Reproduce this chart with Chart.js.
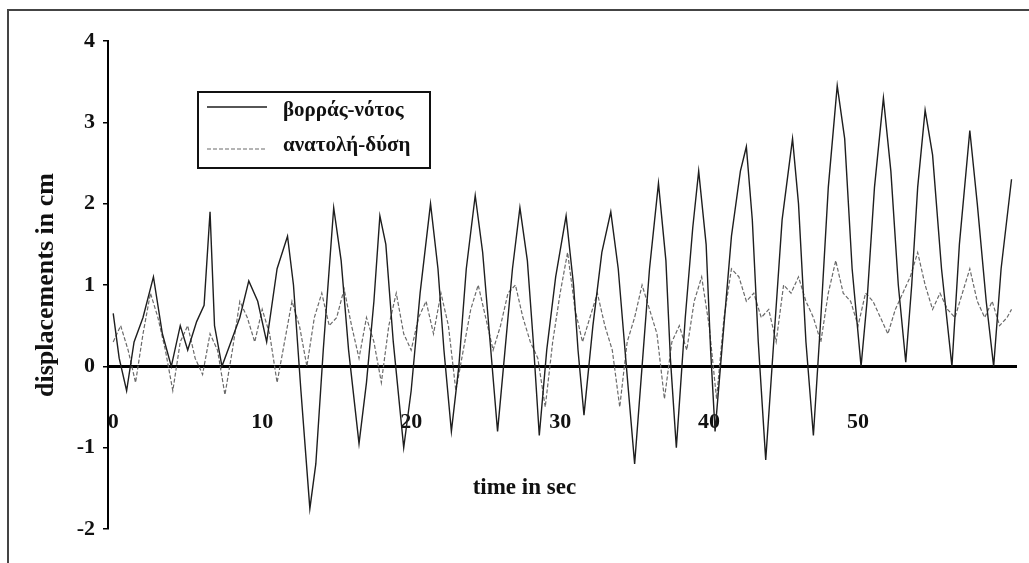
<!DOCTYPE html>
<html>
<head>
<meta charset="utf-8">
<script src="https://cdn.jsdelivr.net/npm/chart.js@4/dist/chart.umd.min.js"></script>
<style>
  html, body { margin: 0; padding: 0; background: #fff; overflow: hidden; }
  #wrap { position: relative; width: 1029px; height: 563px; }
  #frame { position: absolute; left: 7px; top: 9px; width: 1100px; height: 700px; border: 2px solid #444; box-sizing: border-box; }
  canvas { position: absolute; left: 0; top: 0; }
</style>
</head>
<body>
<div id="wrap">
  <div id="frame"></div>
  <canvas id="c" width="1029" height="563"></canvas>
</div>
<script>
// ---- Data ----
const seriesNames = ['βορράς-νότος', 'ανατολή-δύση'];
const yAxisTitle = 'displacements in cm';
const xAxisTitle = 'time in sec';
const xTickValues = [0, 10, 20, 30, 40, 50];
const yTickValues = [-2, -1, 0, 1, 2, 3, 4];

// north-south (large oscillation)
const timeNS = [0.0,0.4,0.9,1.4,2.0,2.7,3.3,3.9,4.5,5.0,5.6,6.1,6.5,6.8,7.3,7.9,8.5,9.1,9.7,10.3,11.0,11.7,12.1,12.6,13.2,13.6,14.1,14.8,15.3,15.8,16.5,17.0,17.5,17.9,18.3,18.8,19.5,20.0,20.6,21.3,21.8,22.2,22.7,23.2,23.7,24.3,24.8,25.3,25.8,26.3,26.8,27.3,27.8,28.2,28.6,29.1,29.7,30.4,30.9,31.2,31.6,32.2,32.8,33.4,33.9,34.4,35.0,35.5,36.0,36.6,37.1,37.4,37.8,38.4,38.9,39.3,39.8,40.1,40.4,40.9,41.5,42.1,42.5,42.9,43.3,43.8,44.3,44.9,45.6,46.0,46.5,47.0,47.5,48.0,48.6,49.1,49.6,50.2,50.6,51.1,51.7,52.2,52.7,53.2,53.6,54.0,54.5,55.0,55.6,56.3,56.8,57.5,58.0,58.6,59.1,59.6,60.3];
const dispNS = [0.65,0.1,-0.3,0.3,0.6,1.1,0.4,0.0,0.5,0.2,0.55,0.75,1.9,0.5,0.0,0.3,0.6,1.05,0.8,0.3,1.2,1.6,1.0,-0.3,-1.75,-1.2,0.2,1.95,1.3,0.2,-0.95,-0.2,0.8,1.85,1.5,0.3,-1.0,-0.3,0.9,2.0,1.2,0.2,-0.8,0.0,1.2,2.1,1.4,0.3,-0.8,0.2,1.2,1.95,1.3,0.3,-0.85,0.2,1.1,1.85,1.0,0.2,-0.6,0.5,1.4,1.9,1.2,0.1,-1.2,0.0,1.2,2.25,1.3,0.1,-1.0,0.6,1.7,2.4,1.5,0.2,-0.8,0.3,1.6,2.4,2.7,1.8,0.3,-1.15,0.2,1.8,2.8,2.0,0.3,-0.85,0.6,2.2,3.45,2.8,1.2,0.0,0.8,2.2,3.3,2.4,1.0,0.05,1.0,2.2,3.15,2.6,1.2,0.0,1.5,2.9,2.0,0.8,0.0,1.2,2.3];

// east-west (smaller, noisy)
const timeEW = [0.0,0.5,1.0,1.5,2.0,2.5,3.0,3.5,4.0,4.5,5.0,5.5,6.0,6.5,7.0,7.5,8.0,8.5,9.0,9.5,10.0,10.5,11.0,11.5,12.0,12.5,13.0,13.5,14.0,14.5,15.0,15.5,16.0,16.5,17.0,17.5,18.0,18.5,19.0,19.5,20.0,20.5,21.0,21.5,22.0,22.5,23.0,23.5,24.0,24.5,25.0,25.5,26.0,26.5,27.0,27.5,28.0,28.5,29.0,29.5,30.0,30.5,31.0,31.5,32.0,32.5,33.0,33.5,34.0,34.5,35.0,35.5,36.0,36.5,37.0,37.5,38.0,38.5,39.0,39.5,40.0,40.5,41.0,41.5,42.0,42.5,43.0,43.5,44.0,44.5,45.0,45.5,46.0,46.5,47.0,47.5,48.0,48.5,49.0,49.5,50.0,50.5,51.0,51.5,52.0,52.5,53.0,53.5,54.0,54.5,55.0,55.5,56.0,56.5,57.0,57.5,58.0,58.5,59.0,59.5,60.0,60.3];
const dispEW = [0.3,0.5,0.2,-0.2,0.4,0.9,0.6,0.2,-0.3,0.3,0.5,0.1,-0.1,0.4,0.2,-0.35,0.2,0.8,0.6,0.3,0.7,0.4,-0.2,0.3,0.8,0.5,0.0,0.6,0.9,0.5,0.6,0.95,0.5,0.1,0.6,0.3,-0.2,0.5,0.9,0.4,0.2,0.6,0.8,0.4,0.9,0.5,-0.3,0.2,0.7,1.0,0.6,0.2,0.5,0.9,1.0,0.6,0.3,0.1,-0.5,0.3,0.9,1.4,0.7,0.3,0.6,0.9,0.5,0.2,-0.5,0.3,0.6,1.0,0.7,0.4,-0.4,0.3,0.5,0.2,0.8,1.1,0.5,-0.4,0.6,1.2,1.1,0.8,0.9,0.6,0.7,0.3,1.0,0.9,1.1,0.8,0.6,0.3,0.9,1.3,0.9,0.8,0.5,0.9,0.8,0.6,0.4,0.7,0.9,1.1,1.4,1.0,0.7,0.9,0.7,0.6,0.9,1.2,0.8,0.6,0.8,0.5,0.6,0.7];

const FONT = "'Liberation Serif', 'Times New Roman', serif";

const toPoints = (ts, vs) => ts.map((t, i) => ({ x: t, y: vs[i] }));

// legend drawn inside the plot with a framed box
const boxLegend = {
  id: 'boxLegend',
  afterDatasetsDraw(chart) {
    const { ctx, chartArea } = chart;
    const L = chartArea.left + 90, T = chartArea.top + 51, W = 232, H = 76;
    ctx.save();
    ctx.fillStyle = '#fff';
    ctx.fillRect(L, T, W, H);
    ctx.strokeStyle = '#111';
    ctx.lineWidth = 2;
    ctx.strokeRect(L, T, W, H);
    const rows = [T + 15, T + 57];
    chart.data.datasets.forEach((ds, i) => {
      ctx.strokeStyle = ds.borderColor;
      ctx.lineWidth = ds.borderWidth;
      ctx.setLineDash(ds.borderDash || []);
      ctx.beginPath();
      ctx.moveTo(L + 9, rows[i]);
      ctx.lineTo(L + 69, rows[i]);
      ctx.stroke();
      ctx.setLineDash([]);
      ctx.fillStyle = '#111';
      ctx.font = 'bold 21px ' + FONT;
      ctx.textBaseline = 'middle';
      ctx.textAlign = 'left';
      ctx.fillText(ds.label, L + 85, rows[i] + (i === 0 ? 4 : -3));
    });
    ctx.restore();
  }
};

// x-axis title placed below the axis, as in the reference
const xTitle = {
  id: 'xTitle',
  afterDraw(chart) {
    const { ctx } = chart;
    const xs = chart.scales.x, ys = chart.scales.y;
    ctx.save();
    ctx.fillStyle = '#111';
    ctx.font = 'bold 23px ' + FONT;
    ctx.textAlign = 'center';
    ctx.textBaseline = 'middle';
    ctx.fillText(xAxisTitle, xs.getPixelForValue(27.6), ys.getPixelForValue(-1.5));
    ctx.restore();
  }
};

new Chart(document.getElementById('c'), {
  type: 'line',
  data: {
    datasets: [
      {
        label: seriesNames[0],
        data: toPoints(timeNS, dispNS),
        borderColor: '#1e1e1e',
        borderWidth: 1.4,
        pointRadius: 0,
        tension: 0,
        fill: false
      },
      {
        label: seriesNames[1],
        data: toPoints(timeEW, dispEW),
        borderColor: '#6a6a6a',
        borderWidth: 1.2,
        borderDash: [4, 2],
        pointRadius: 0,
        tension: 0,
        fill: false
      }
    ]
  },
  options: {
    responsive: false,
    animation: false,
    parsing: true,
    layout: { padding: { left: 0, top: 41, right: 13, bottom: 34 } },
    plugins: {
      legend: { display: false },
      tooltip: { enabled: false },
      title: { display: false }
    },
    scales: {
      x: {
        type: 'linear',
        position: { y: 0 },
        min: -0.35,
        max: 60.6,
        afterBuildTicks(scale) { scale.ticks = xTickValues.map(v => ({ value: v })); },
        grid: { display: true, drawOnChartArea: false, drawTicks: false },
        border: { display: true, color: '#000', width: 3 },
        ticks: {
          padding: 43,
          color: '#111',
          font: { family: FONT, size: 22, weight: 'bold' },
          maxRotation: 0
        }
      },
      y: {
        type: 'linear',
        position: 'left',
        min: -2,
        max: 4,
        afterBuildTicks(scale) { scale.ticks = yTickValues.map(v => ({ value: v })); },
        afterFit(scale) { scale.width = 108; },
        grid: { display: true, drawOnChartArea: false, drawTicks: true, tickLength: 5, color: '#000', lineWidth: 1.5 },
        border: { display: true, color: '#000', width: 2 },
        ticks: {
          padding: 8,
          color: '#111',
          font: { family: FONT, size: 22, weight: 'bold' }
        },
        title: {
          display: true,
          text: yAxisTitle,
          color: '#111',
          padding: { top: 31, bottom: 0 },
          font: { family: FONT, size: 26, weight: 'bold' }
        }
      }
    }
  },
  plugins: [boxLegend, xTitle]
});
</script>
</body>
</html>
